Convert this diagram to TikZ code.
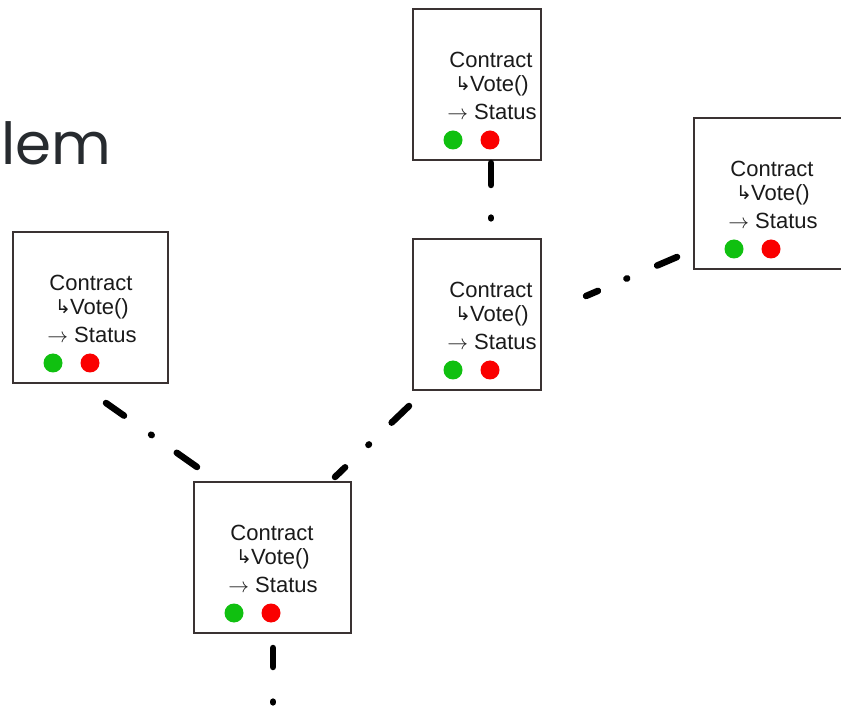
\documentclass[tikz,border=0pt]{standalone}
\usepackage{fontspec}
\setmainfont{Liberation Sans}
\newfontfamily\dejavu{DejaVu Sans}
\newfontfamily\titlefont{Poppins}
\definecolor{txt}{HTML}{1A1A1A}
\definecolor{bord}{HTML}{3A3232}
\definecolor{dotgreen}{HTML}{10C010}
\definecolor{dotred}{HTML}{FA0000}
\definecolor{titlegray}{HTML}{272B2F}
\tikzset{
  cbox/.style={draw=bord, line width=1.3pt, fill=white, minimum height=151pt, inner sep=0pt, outer sep=0pt},
  ctext/.style={text=txt, font=\fontsize{22}{26}\selectfont, inner sep=0pt, anchor=center},
  gdot/.style={circle, fill=dotgreen, minimum size=19pt, inner sep=0pt},
  rdot/.style={circle, fill=dotred, minimum size=19pt, inner sep=0pt},
  conn/.style={line width=6.5pt, line cap=round, black}
}
\newcommand\contractbox[4]{%
  \node[cbox, minimum width=#4pt, anchor=north west] (#1) at (#2,#3) {};
  \node[ctext] (#1-c) at ([shift={(78,51)}]#1.north west) {Contract};
  \node[ctext] (#1-v) at ([shift={(79,77)}]#1.north west) {\raisebox{1.5pt}{\dejavu\fontsize{19}{19}\selectfont ↳}\kern-1pt Vote()};
  \node[ctext] (#1-s) at ([shift={(79,103)}]#1.north west) {$\rightarrow$ Status};
  \node[gdot] (#1-g) at ([shift={(40,131)}]#1.north west) {};
  \node[rdot] (#1-r) at ([shift={(77,131)}]#1.north west) {};
}
\begin{document}
\begin{tikzpicture}[x=1pt,y=-1pt]
\useasboundingbox (0,0) rectangle (841,708);
\clip (0,0) rectangle (841,708);
\fill[white] (0,0) rectangle (841,708);
\node[anchor=base west, inner sep=0pt, text=titlegray, font=\titlefont\fontsize{58}{58}\selectfont] (title) at (1.5,165) {lem};
\contractbox{top}{413}{9}{128}
\contractbox{mid}{413}{239}{128}
\contractbox{right}{694}{118}{160}
\contractbox{left}{13}{232}{155}
\contractbox{bot}{194}{482}{157}
% connector end points
\coordinate (c1a) at (106,403); \coordinate (c1b) at (197,467);
\coordinate (c2a) at (335,477); \coordinate (c2b) at (409,406);
\coordinate (c3a) at (491,163); \coordinate (c3b) at (491,228);
\coordinate (c4a) at (586,296); \coordinate (c4b) at (677,257);
\coordinate (c5a) at (273,648); \coordinate (c5b) at (273,708);
\draw[conn, dash pattern=on 22pt off 33.1pt on 0.8pt off 30.6pt on 40pt] (c1a) -- (c1b);
\draw[conn, dash pattern=on 14pt off 32.3pt on 0.8pt off 31.4pt on 40pt] (c2a) -- (c2b);
\draw[conn, dash pattern=on 22pt off 32.6pt on 0.8pt off 40pt] (c3a) -- (c3b);
\draw[conn, dash pattern=on 13pt off 31pt on 0.8pt off 32.6pt on 40pt] (c4a) -- (c4b);
\draw[conn, dash pattern=on 19pt off 34.6pt on 0.8pt off 40pt] (c5a) -- (c5b);
\end{tikzpicture}
\end{document}
